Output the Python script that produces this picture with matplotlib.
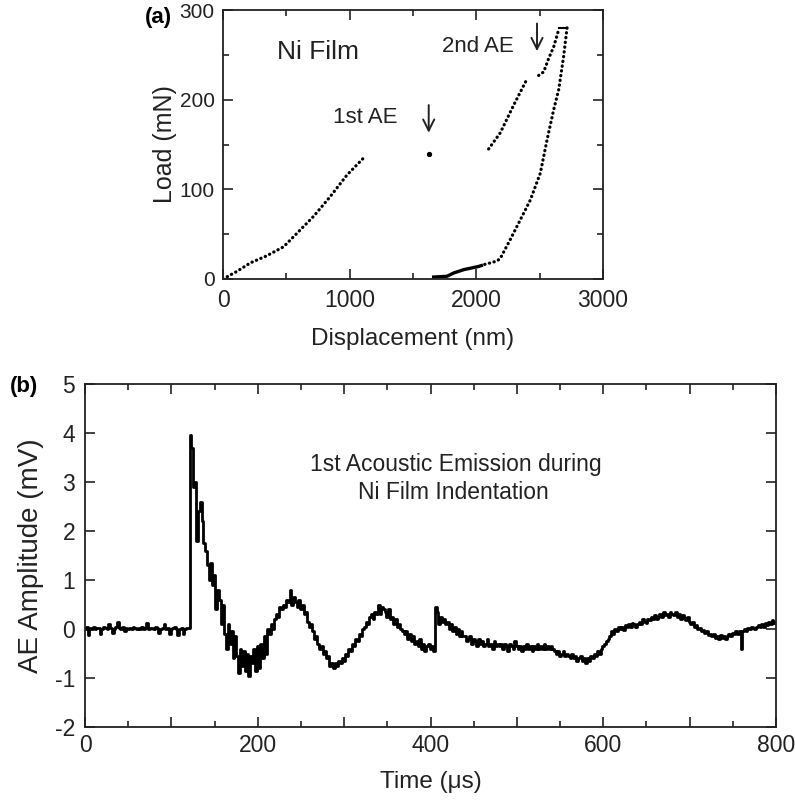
import numpy as np
import matplotlib
matplotlib.use("Agg")
import matplotlib.pyplot as plt
from matplotlib.ticker import MultipleLocator, FuncFormatter

plt.rcParams['font.family'] = ['Liberation Sans', 'DejaVu Sans']
plt.rcParams['axes.unicode_minus'] = False

# (a) load-displacement
load_x1 = [0, 110, 216, 347, 479, 584, 716, 847, 979, 1110]
load_y1 = [0, 8.5, 18, 26, 36, 51, 70, 92, 116, 135]
ae1_x, ae1_y = [1624], [139]
load_x2 = [2097, 2189, 2295, 2400]
load_y2 = [145, 163, 194, 223]
load_x3 = [2492, 2532, 2571, 2611, 2650]
load_y3 = [227, 231, 246, 259, 278]
hold_x = [2650, 2716]
hold_y = [280, 280]
unload_x = [2716, 2689, 2650, 2611, 2558, 2505, 2426, 2347, 2268, 2189, 2163, 2058]
unload_y = [280, 248, 211, 189, 155, 118, 88, 66, 44, 23, 20, 16]
tail_x = [2040, 2018, 1900, 1821, 1768, 1663]
tail_y = [15, 14, 10.4, 6.7, 3, 2.2]

# (b) AE waveform, 2 us sampling
time_us = np.arange(0, 801, 2)
ae_mv = [
    0.0, 0.05, -0.12, 0.02, 0.0, 0.05, 0.0, 0.03, 0.02, -0.1, 0.0, 0.05, 0.02, 0.0, 0.1, 0.02, -0.08, 0.0, 0.05, 0.15,
    0.02, 0.0, 0.05, -0.05, 0.02, 0.0, 0.03, 0.0, 0.05, 0.02, 0.0, 0.03, 0.0, 0.05, 0.0, 0.02, 0.12, 0.0, 0.03, 0.02,
    0.0, 0.05, 0.02, -0.08, 0.0, 0.02, 0.1, 0.0, 0.03, -0.1, 0.0, 0.02, 0.05, 0.0, -0.12, 0.0, 0.02, -0.1, 0.0, 0.03,
    0.02, 3.95, 3.7, 2.9, 3.0, 1.8, 2.4, 2.6, 2.2, 1.75, 1.6, 1.3, 1.0, 1.35, 0.9, 1.1, 0.4, 0.8, 0.6, 0.1,
    0.5, -0.1, -0.4, 0.1, -0.3, -0.05, -0.6, -0.15, -0.55, -0.9, -0.4, -0.75, -0.45, -0.85, -0.5, -0.95, -0.55, -0.7, -0.4, -0.85,
    -0.35, -0.8, -0.3, -0.6, -0.15, -0.5, 0.0, -0.1, 0.1, 0.0, 0.2, 0.3, 0.25, 0.45, 0.4, 0.5, 0.45, 0.6, 0.55, 0.8,
    0.5, 0.65, 0.55, 0.45, 0.6, 0.4, 0.5, 0.3, 0.35, 0.15, 0.05, 0.1, -0.05, -0.2, -0.15, -0.3, -0.4, -0.35, -0.5, -0.45,
    -0.6, -0.55, -0.75, -0.7, -0.8, -0.7, -0.75, -0.65, -0.7, -0.6, -0.65, -0.5, -0.55, -0.4, -0.45, -0.3, -0.35, -0.2, -0.25, -0.1,
    -0.15, 0.0, 0.05, 0.15, 0.1, 0.25, 0.3, 0.2, 0.35, 0.3, 0.5, 0.3, 0.45, 0.4, 0.35, 0.25, 0.4, 0.2, 0.25, 0.1,
    0.2, 0.05, 0.1, 0.0, -0.05, -0.1, -0.05, -0.2, -0.1, -0.25, -0.15, -0.3, -0.25, -0.35, -0.2, -0.4, -0.3, -0.45, -0.35, -0.3,
    -0.4, -0.35, -0.45, 0.45, 0.35, 0.1, 0.25, 0.15, 0.2, 0.1, 0.15, 0.0, 0.1, -0.05, 0.05, -0.1, 0.0, -0.15, -0.05, -0.15,
    -0.15, -0.25, -0.2, -0.15, -0.3, -0.2, -0.25, -0.35, -0.2, -0.3, -0.25, -0.35, -0.3, -0.2, -0.35, -0.3, -0.4, -0.25, -0.35, -0.3,
    -0.35, -0.3, -0.4, -0.3, -0.35, -0.45, -0.3, -0.35, -0.4, -0.25, -0.35, -0.4, -0.35, -0.45, -0.35, -0.4, -0.3, -0.4, -0.35, -0.45,
    -0.35, -0.4, -0.3, -0.4, -0.35, -0.4, -0.3, -0.4, -0.35, -0.4, -0.35, -0.4, -0.45, -0.5, -0.45, -0.55, -0.5, -0.45, -0.55, -0.5,
    -0.55, -0.6, -0.5, -0.6, -0.55, -0.65, -0.6, -0.55, -0.65, -0.6, -0.7, -0.6, -0.65, -0.55, -0.6, -0.5, -0.55, -0.45, -0.5, -0.4,
    -0.35, -0.3, -0.25, -0.2, -0.15, -0.05, -0.1, 0.0, -0.05, 0.05, 0.0, 0.05, -0.02, 0.08, 0.05, 0.1, 0.05, 0.12, 0.1, 0.05,
    0.1, 0.15, 0.1, 0.2, 0.15, 0.12, 0.2, 0.18, 0.25, 0.2, 0.28, 0.2, 0.25, 0.3, 0.25, 0.35, 0.28, 0.3, 0.25, 0.35,
    0.3, 0.28, 0.35, 0.25, 0.3, 0.2, 0.28, 0.22, 0.18, 0.25, 0.15, 0.1, 0.15, 0.05, 0.08, 0.0, 0.02, -0.05, -0.02, -0.08,
    -0.05, -0.12, -0.1, -0.15, -0.1, -0.18, -0.15, -0.2, -0.12, -0.18, -0.15, -0.2, -0.15, -0.1, -0.15, -0.08, -0.1, -0.05, -0.1, -0.05,
    -0.4, -0.05, 0.0, -0.05, 0.02, 0.0, 0.05, 0.02, 0.0, 0.05, 0.08, 0.05, 0.1, 0.05, 0.12, 0.08, 0.15, 0.1, 0.18, 0.12,
    0.15,
]

ink = '#222222'
tick_fs = 16.5

fig = plt.figure(figsize=(7.95, 8.01), dpi=100)
ax1 = fig.add_axes([223 / 795, 1 - 279 / 801, 380 / 795, 269 / 801])
ax2 = fig.add_axes([85 / 795, 1 - 727 / 801, 691 / 795, 343 / 801])

dots = dict(color='k', lw=2.3, linestyle=(0, (0.1, 1.4)), dash_capstyle='round')
ax1.plot(load_x1, load_y1, **dots)
ax1.plot(ae1_x, ae1_y, 'ko', ms=2.8)
ax1.plot(load_x2, load_y2, **dots)
ax1.plot(load_x3, load_y3, **dots)
ax1.plot(hold_x, hold_y, color='k', lw=1.5)
ax1.plot(unload_x, unload_y, **dots)
ax1.plot(tail_x, tail_y, color='k', lw=2.4)

ax1.set_xlim(0, 3000)
ax1.set_ylim(0, 300)
ax1.xaxis.set_major_locator(MultipleLocator(1000))
ax1.xaxis.set_minor_locator(MultipleLocator(500))
ax1.yaxis.set_major_locator(MultipleLocator(100))
ax1.yaxis.set_minor_locator(MultipleLocator(50))
ax1.set_xlabel('Displacement (nm)', fontsize=17.5, color=ink, labelpad=12)
ax1.set_ylabel('Load (mN)', fontsize=18, color=ink, labelpad=2)

ax1.text(426, 253, 'Ni Film', fontsize=19, color=ink, va='center')
ax1.text(868, 180, '1st AE', fontsize=16, color=ink, va='center')
ax1.text(1729, 259, '2nd AE', fontsize=16, color=ink, va='center')
arrow = dict(arrowstyle='->', lw=1.4, color=ink, mutation_scale=20)
ax1.annotate('', xy=(1624, 160), xytext=(1624, 197), arrowprops=arrow)
ax1.annotate('', xy=(2479, 251), xytext=(2479, 288), arrowprops=arrow)

ax2.plot(time_us, ae_mv, color='k', lw=2.0, drawstyle='steps-mid')
ax2.set_xlim(0, 800)
ax2.set_ylim(-2, 5)
ax2.xaxis.set_major_locator(MultipleLocator(100))
ax2.xaxis.set_major_formatter(FuncFormatter(lambda v, p: '%d' % v if v % 200 == 0 else ''))
ax2.xaxis.set_minor_locator(MultipleLocator(50))
ax2.yaxis.set_major_locator(MultipleLocator(1))
ax2.set_xlabel('Time (\u03bcs)', fontsize=17.5, color=ink, labelpad=10)
ax2.set_ylabel('AE Amplitude (mV)', fontsize=20, color=ink, labelpad=8)
ax2.text(260, 3.35, '1st Acoustic Emission during', fontsize=16.5, color=ink, va='center')
ax2.text(316, 2.78, 'Ni Film Indentation', fontsize=16.5, color=ink, va='center')

for ax in (ax1, ax2):
    for s in ax.spines.values():
        s.set_linewidth(1.3)
        s.set_color(ink)
    ax.tick_params(which='both', direction='in', top=True, right=True,
                   labelsize=tick_fs, colors=ink, width=1.2, pad=7)
    ax.tick_params(which='major', length=7)
    ax.tick_params(which='minor', length=4.5)
ax1.tick_params(axis='y', labelsize=15, pad=6)
ax2.tick_params(axis='x', pad=5)

fig.text(145 / 795, 1 - 18 / 801, '(a)', fontsize=16, fontweight='bold', va='center')
fig.text(10 / 795, 1 - 386 / 801, '(b)', fontsize=16, fontweight='bold', va='center')

fig.savefig('out.png', dpi=100)
